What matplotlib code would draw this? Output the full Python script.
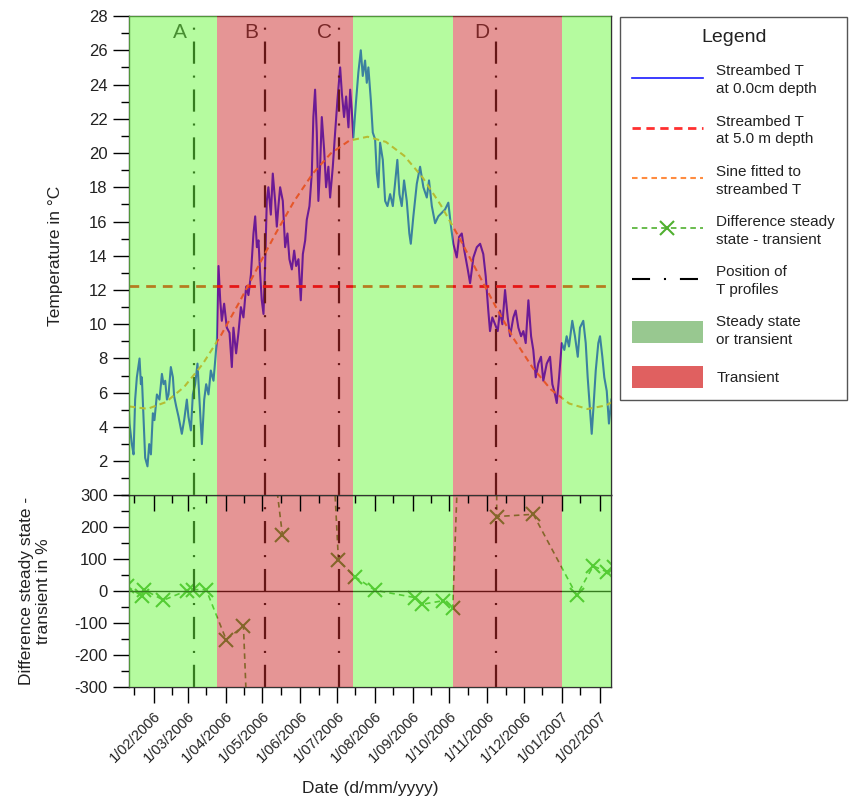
import matplotlib
import numpy as np
import pandas as pd

matplotlib.use("Agg")
import matplotlib.dates as mdates  # noqa: E402
import matplotlib.pyplot as plt  # noqa: E402
from matplotlib.lines import Line2D  # noqa: E402
from matplotlib.patches import Patch  # noqa: E402
from matplotlib.ticker import FuncFormatter, MultipleLocator  # noqa: E402

plt.rcParams["font.family"] = ["Liberation Sans", "DejaVu Sans"]
plt.rcParams["lines.scale_dashes"] = False
plt.rcParams["axes.unicode_minus"] = False

START = pd.Timestamp("2006-01-01")

# streambed T at 0.0 cm: days after 1 Jan 2006, deg C
temp_day = [
    10.0, 11.3, 13.2, 14.6, 15.9, 17.3, 19.5, 20.6, 21.4, 22.7, 24.1, 26.0, 27.4,
    28.8, 30.4, 31.7, 33.7, 35.8, 37.8, 39.1, 40.5, 41.9, 43.2, 45.1, 46.8, 47.8,
    49.5, 51.4, 54.1, 56.0, 58.2, 59.5, 61.5, 63.1, 65.0, 66.9, 68.5, 70.5, 72.4,
    74.0, 75.9, 77.8, 80.0, 81.4, 82.8, 84.1, 85.5, 86.8, 88.7, 90.9, 93.1, 95.0,
    96.3, 98.5, 100.4, 102.4, 104.5, 106.7, 108.6, 110.6, 112.7, 114.1, 115.5,
    116.8, 118.2, 119.5, 120.9, 122.2, 123.6, 124.9, 126.9, 128.5, 130.4, 131.8,
    133.1, 134.5, 136.7, 138.6, 140.5, 142.1, 144.1, 146.0, 147.6, 149.5, 151.4,
    153.1, 155.0, 156.3, 158.5, 160.4, 161.7, 163.1, 164.5, 165.8, 167.2, 168.6,
    170.5, 172.1, 174.0, 175.4, 177.6, 179.5, 181.4, 183.6, 185.0, 186.8, 188.5,
    190.4, 191.8, 193.1, 194.4, 196.7, 198.5, 200.5, 202.1, 204.0, 205.4, 206.7,
    208.7, 210.3, 212.2, 213.6, 214.9, 216.3, 218.5, 220.4, 222.3, 224.5, 226.7,
    228.5, 230.4, 232.1, 234.0, 235.9, 238.1, 240.2, 241.4, 243.5, 246.3, 249.0,
    251.7, 254.5, 256.3, 258.6, 261.3, 263.9, 266.7, 269.4, 272.1, 274.3, 276.2,
    279.0, 280.9, 283.1, 285.2, 288.0, 289.9, 292.6, 295.4, 298.1, 300.7, 302.7,
    304.8, 306.2, 308.1, 310.3, 312.5, 314.4, 316.3, 318.5, 320.7, 322.6, 325.3,
    327.2, 329.4, 331.6, 333.5, 335.4, 337.6, 339.8, 341.6, 343.6, 345.7, 347.9,
    349.8, 352.6, 355.3, 357.2, 359.4, 360.8, 362.7, 364.9, 367.0, 368.9, 370.8,
    373.5, 375.7, 378.0, 379.8, 382.5, 384.5, 386.1, 388.0, 389.4, 390.7, 392.7,
    394.8, 396.2, 398.1, 399.7, 401.7, 403.5, 405.5,
]
temp_c = [
    6.0, 4.2, 3.0, 2.4, 5.6, 6.9, 8.0, 6.5, 6.9, 4.6, 2.2, 1.7, 3.0,
    2.4, 4.8, 4.4, 5.9, 5.6, 7.1, 6.5, 6.7, 5.6, 5.9, 7.5, 6.9, 5.8,
    5.2, 4.6, 3.6, 4.4, 5.6, 4.6, 3.8, 5.9, 6.5, 7.7, 5.6, 3.0, 5.6,
    6.5, 5.9, 7.3, 6.7, 7.9, 9.1, 13.4, 11.4, 10.2, 11.2, 9.8, 9.5, 7.5,
    9.8, 8.3, 9.5, 11.0, 10.4, 12.2, 11.7, 12.9, 15.3, 16.3, 14.5,
    14.9, 12.9, 11.4, 10.6, 13.4, 17.2, 18.0, 16.4, 18.8, 17.2, 15.7,
    16.9, 18.0, 17.2, 14.5, 15.3, 13.8, 13.2, 14.3, 13.4, 13.8, 11.4,
    14.1, 14.9, 16.1, 16.9, 18.8, 22.1, 23.7, 21.2, 17.2, 19.2, 22.1,
    20.2, 18.0, 19.2, 17.4, 19.2, 21.2, 23.1, 25.0, 23.5, 22.1, 23.3,
    21.5, 23.7, 22.5, 20.9, 23.1, 24.7, 26.0, 24.5, 25.4, 24.1, 25.0,
    23.1, 21.2, 20.8, 18.8, 18.0, 20.6, 19.6, 17.2, 16.9, 17.6, 16.9,
    18.2, 19.6, 17.6, 16.9, 18.4, 17.2, 15.3, 14.7, 16.3, 18.2, 19.2,
    18.0, 17.4, 18.4, 16.9, 15.9, 16.3, 16.5, 16.7, 17.1, 15.7, 14.7,
    13.9, 15.1, 15.3, 14.3, 13.2, 12.4, 13.9, 14.5, 14.7, 14.1, 12.8,
    10.8, 9.6, 10.4, 10.0, 9.6, 10.8, 10.0, 12.0, 10.4, 9.3, 10.4,
    10.8, 9.8, 9.3, 9.6, 8.9, 11.4, 9.3, 8.5, 6.9, 7.7, 8.1,
    6.7, 7.7, 8.1, 6.5, 5.9, 5.4, 6.9, 8.9, 8.5, 9.3, 8.7,
    10.2, 9.3, 8.1, 9.8, 10.2, 8.9, 6.9, 5.0, 3.6, 5.0, 7.3,
    8.9, 9.3, 8.1, 6.9, 6.1, 4.2, 5.6,
]

# sine fitted to streambed T
sine_day = [11, 26, 41, 56, 71, 86, 101, 116, 131, 146, 161, 176, 191, 206,
            221, 236, 251, 266, 281, 296, 311, 326, 341, 356, 371, 386, 401, 406]
sine_c = [5.20, 5.06, 5.45, 6.34, 7.66, 9.34, 11.27, 13.30, 15.32, 17.19, 18.78,
          19.98, 20.72, 20.95, 20.65, 19.84, 18.58, 16.95, 15.06, 13.03, 11.01,
          9.11, 7.47, 6.19, 5.37, 5.05, 5.26, 5.45]

DEEP_T = 12.25  # streambed T at 5.0 m depth

# difference steady state - transient (%); NaN = break in the curve
diff_day = [9.5, 21.5, 23.0, 39.1, 58.2, 63.1, 74.0, 90.4, 104.5, 107.5, 120.0,
            131.2, 136.4, 160.0, 177.9, 182.2, 195.9, 212.2, 244.9, 250.4, 267.6,
            275.7, 280.1, 295.0, 310.7, 311.7, 341.6, 377.1, 390.7, 401.6, 407.6]
diff_pct = [15, -15, 5, -28, 2, 5, 5, -152, -109, -400, np.nan,
            340, 176, np.nan, 420, 97, 45, 3, -20, -41, -30,
            -54, 412, np.nan, 2000, 234, 241, -13, 79, 61, 75]

profile_names = ["A", "B", "C", "D"]
profile_dates = ["2006-03-06", "2006-05-03", "2006-07-03", "2006-11-08"]
transient_start = ["2006-03-25", "2006-10-04"]
transient_end = ["2006-07-14", "2007-01-01"]
steady_start = ["2005-12-01", "2006-07-14", "2007-01-01"]
steady_end = ["2006-03-25", "2006-10-04", "2007-03-01"]

GREEN = "#6df941"
RED = "#cd2d2d"
TXT = "#222222"


def days(d):
    return START + pd.to_timedelta(d, unit="D")


def shade(ax):
    for a, b in zip(steady_start, steady_end):
        ax.axvspan(pd.Timestamp(a), pd.Timestamp(b), color=GREEN, alpha=0.5, lw=0, zorder=4)
    for a, b in zip(transient_start, transient_end):
        ax.axvspan(pd.Timestamp(a), pd.Timestamp(b), color=RED, alpha=0.5, lw=0, zorder=4)
    for p in profile_dates:
        ax.axvline(pd.Timestamp(p), color="k", lw=1.6, dashes=(16, 8.5, 1.5, 8.5), zorder=2)


def date_label(v, _pos):
    d = mdates.num2date(v)
    return f"{d.day}/{d.month:02d}/{d.year}"


fig = plt.figure(figsize=(8.49, 8.05), dpi=100)
ax = fig.add_axes([0.1514, 0.3845, 0.5683, 0.5956])
axd = fig.add_axes([0.1514, 0.1466, 0.5683, 0.2379], sharex=ax)
ax.set_zorder(3)

# temperature panel
ax.plot(days(temp_day), temp_c, color="#0a0aff", lw=1.5, zorder=2)
ax.axhline(DEEP_T, color="#ff0000", lw=2, dashes=(7, 5), zorder=2.1)
ax.plot(days(sine_day), sine_c, color="#ff8228", lw=1.5, dashes=(4.5, 3), zorder=2.2)
shade(ax)
for name, p in zip(profile_names, profile_dates):
    ax.annotate(name, xy=(pd.Timestamp(p), 1), xycoords=("data", "axes fraction"),
                xytext=(-5, -5), textcoords="offset points", ha="right", va="top",
                fontsize=15, color=TXT, zorder=2)
ax.set_ylim(0, 28)
ax.set_yticks(np.arange(2, 29, 2))
ax.yaxis.set_minor_locator(MultipleLocator(1))
ax.set_ylabel("Temperature in \u00b0C", fontsize=12.5, color=TXT, va="center")
ax.yaxis.set_label_coords(-0.152, 0.5)

# difference panel
axd.plot(days(diff_day), diff_pct, color="#3ca028", lw=1.2, dashes=(4, 3),
         marker="x", markersize=10, mew=1.5, zorder=2)
axd.axhline(0, color="k", lw=1, zorder=2)
shade(axd)
axd.set_ylim(-300, 300)
axd.set_yticks(np.arange(-300, 301, 100))
axd.yaxis.set_minor_locator(MultipleLocator(50))
axd.set_ylabel("Difference steady state -\ntransient in %", fontsize=12.5,
               color=TXT, va="center")
axd.yaxis.set_label_coords(-0.194, 0.5)
axd.set_xlabel("Date (d/mm/yyyy)", fontsize=12.5, color=TXT, labelpad=12)

axd.set_xlim(days(10.5), days(405.2))
axd.xaxis.set_major_locator(mdates.MonthLocator())
axd.xaxis.set_minor_locator(mdates.DayLocator(bymonthday=16))
axd.xaxis.set_major_formatter(FuncFormatter(date_label))

for a in (ax, axd):
    a.tick_params(which="major", length=11.5, width=1, labelsize=12, labelcolor=TXT)
    a.tick_params(which="minor", length=5.8, width=1)
    for s in a.spines.values():
        s.set_linewidth(1)
        s.set_color("#333333")
ax.tick_params(axis="x", labelbottom=False)
axd.tick_params(axis="x", which="major", labelsize=10.5, pad=4)
for lab in axd.get_xticklabels():
    lab.set_rotation(45)
    lab.set_ha("right")
    lab.set_rotation_mode("anchor")

handles = [
    Line2D([], [], color="#1a1aff", lw=1.2),
    Line2D([], [], color="#ff3030", lw=2, dashes=(6, 4)),
    Line2D([], [], color="#ff8c40", lw=1.5, dashes=(4, 3)),
    Line2D([], [], color="#50b030", lw=1.2, dashes=(4, 3), marker="x",
           markersize=10, mew=1.5),
    Line2D([], [], color="k", lw=1.5, dashes=(13, 10, 1.5, 10)),
    Patch(facecolor="#98c890", edgecolor="none"),
    Patch(facecolor="#e06060", edgecolor="none"),
]
labels = [
    "Streambed T\nat 0.0cm depth",
    "Streambed T\nat 5.0 m depth",
    "Sine fitted to\nstreambed T",
    "Difference steady\nstate - transient",
    "Position of\nT profiles",
    "Steady state\nor transient",
    "Transient",
]
leg = fig.legend(handles, labels, loc="upper left", bbox_to_anchor=(0.7303, 0.979),
                 title="Legend", fontsize=11, title_fontsize=14, frameon=True,
                 fancybox=False, edgecolor="#555555", framealpha=1,
                 handlelength=4.6, handleheight=1.9, handletextpad=0.9,
                 labelspacing=1.2, borderpad=0.8, borderaxespad=0)
leg.get_frame().set_linewidth(1)
for t in leg.get_texts():
    t.set_color(TXT)
    t.set_linespacing(1.35)
leg.get_title().set_color(TXT)

fig.savefig("out.png", dpi=100)
